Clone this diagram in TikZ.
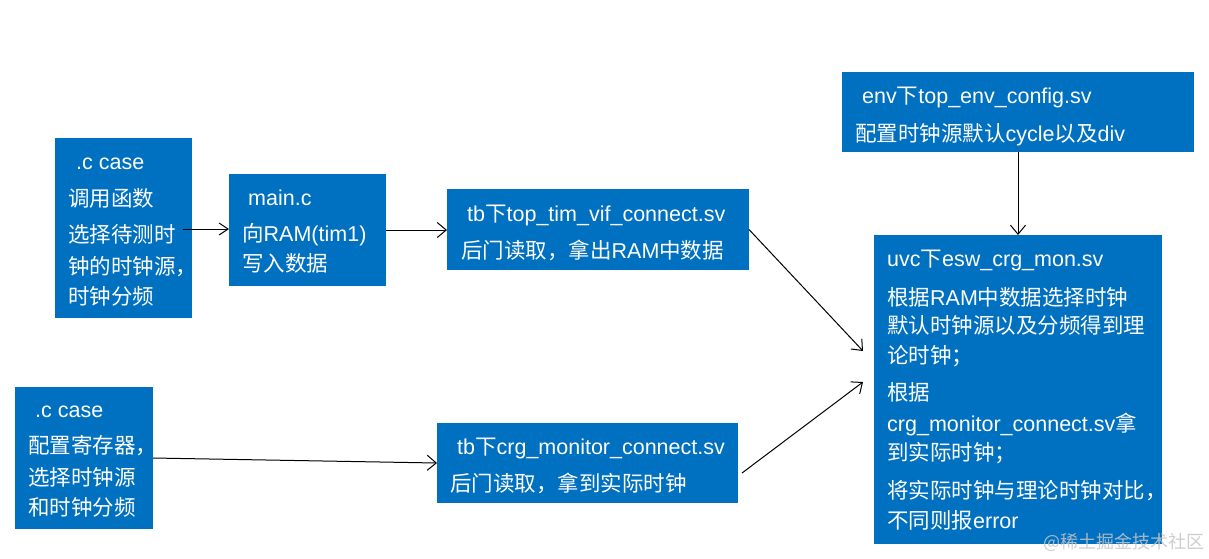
\documentclass[tikz,border=0pt]{standalone}
\usepackage{fontspec}
\setmainfont{Liberation Sans}
\newfontfamily\cjk{Noto Sans CJK SC}
\usetikzlibrary{arrows.meta,calc}
\definecolor{boxblue}{RGB}{0,112,192}
\newcommand{\C}[1]{{\cjk #1}}
\tikzset{
  bluebox/.style={fill=boxblue, draw=none, anchor=north west, inner sep=0pt, outer sep=0pt},
  txt/.style={anchor=base west, inner sep=0pt, text=white, font=\fontsize{21.5}{26}\selectfont},
  conn/.style={draw=black, line width=1pt, -{Straight Barb[length=9pt,width=15pt]}},
}
\begin{document}
\begin{tikzpicture}[x=1pt,y=-1pt]
\fill[white] (0,0) rectangle (1209,558);
\useasboundingbox (0,0) rectangle (1209,558);

% boxes
\node[bluebox, minimum width=137pt, minimum height=180pt] (A) at (55,138) {};
\node[bluebox, minimum width=157pt, minimum height=112pt] (B) at (229,174) {};
\node[bluebox, minimum width=302pt, minimum height=81pt] (C) at (447,189) {};
\node[bluebox, minimum width=352pt, minimum height=80pt] (D) at (842,72) {};
\node[bluebox, minimum width=288pt, minimum height=309pt] (E) at (874,235) {};
\node[bluebox, minimum width=138pt, minimum height=142pt] (F) at (15,387) {};
\node[bluebox, minimum width=301pt, minimum height=80pt] (G) at (437,423) {};

% box A text
\node[txt] (a1) at (76,169) {.c case};
\node[txt] (a2) at (68,206) {\C{调用函数}};
\node[txt] (a3) at (68,242) {\C{选择待测时}};
\node[txt] (a4) at (68,274) {\C{钟的时钟源，}};
\node[txt] (a5) at (68,304) {\C{时钟分频}};

% box B text
\node[txt] (b1) at (248,205) {main.c};
\node[txt] (b2) at (242,241) {\C{向}RAM(tim1)};
\node[txt] (b3) at (242,271) {\C{写入数据}};

% box C text
\node[txt] (c1) at (467,221) {tb\C{下}top\_tim\_vif\_connect.sv};
\node[txt] (c2) at (461,258) {\C{后门读取，拿出}RAM\C{中数据}};

% box D text
\node[txt] (d1) at (862,103) {env\C{下}top\_env\_config.sv};
\node[txt] (d2) at (855,141) {\C{配置时钟源默认}cycle\C{以及}div};

% box E text
\node[txt] (e1) at (887,266) {uvc\C{下}esw\_crg\_mon.sv};
\node[txt] (e2) at (887,305) {\C{根据}RAM\C{中数据选择时钟}};
\node[txt] (e3) at (887,333) {\C{默认时钟源以及分频得到理}};
\node[txt] (e4) at (887,363) {\C{论时钟；}};
\node[txt] (e5) at (887,400) {\C{根据}};
\node[txt] (e6) at (887,431) {crg\_monitor\_connect.sv\C{拿}};
\node[txt] (e7) at (887,460) {\C{到实际时钟；}};
\node[txt] (e8) at (887,498) {\C{将实际时钟与理论时钟对比，}};
\node[txt] (e9) at (887,528) {\C{不同则报}error};

% box F text
\node[txt] (f1) at (35,417) {.c case};
\node[txt] (f2) at (28,453) {\C{配置寄存器，}};
\node[txt] (f3) at (28,485) {\C{选择时钟源}};
\node[txt] (f4) at (28,515) {\C{和时钟分频}};

% box G text
\node[txt] (g1) at (457,454) {tb\C{下}crg\_monitor\_connect.sv};
\node[txt] (g2) at (450,491) {\C{后门读取，拿到实际时钟}};

% connectors
\draw[conn, -{Straight Barb[length=9pt,width=12pt]}] ($(A.east)+(-9,1)$) -- ($(A.east -| B.west)+(0,1)$);
\draw[conn] (B.east) -- (B.east -| C.west);
\coordinate (eup) at ($(E.west)+(-11,-38.5)$);
\coordinate (elo) at ($(E.west)+(-11,-7.5)$);
\draw[conn] (C.east) -- (eup);
\draw[conn] ($(G.east)+(4,10)$) -- (elo);
\draw[conn] (F.east) -- (G.west);
\draw[conn] (D.south) -- (E.north);

% watermark
\node[anchor=base west, inner sep=0pt, text=gray!45, opacity=0.85, font=\cjk\fontsize{18}{20}\selectfont] (wm) at (1043,548) {@稀土掘金技术社区};
\end{tikzpicture}
\end{document}
